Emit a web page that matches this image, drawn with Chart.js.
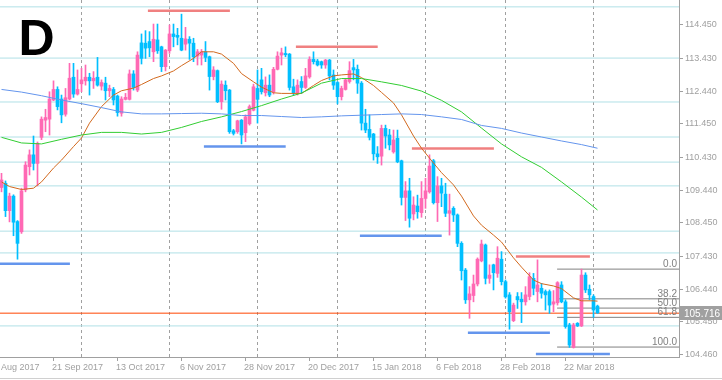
<!DOCTYPE html>
<html>
<head>
<meta charset="utf-8">
<script src="https://cdn.jsdelivr.net/npm/chart.js@4.4.1/dist/chart.umd.min.js"></script>
<style>
    html, body { margin: 0; padding: 0; background: #ffffff; }
    #wrap { width: 722px; height: 380px; }
</style>
</head>
<body>
<div id="wrap"><canvas id="chart" width="722" height="380"></canvas></div>
<script>
// Daily candles, Sep 2017 - Apr 2018 (index 0 = first visible bar)
const opens = [
    109.52, 109.65, 108.82, 109.26, 108.49, 108.18, 109.45, 110.15, 110.51, 110.25,
    111.04, 111.56, 111.59, 112.17, 112.49, 112.20, 111.74, 112.20, 112.86, 112.35,
    112.66, 112.75, 112.86, 112.75, 112.86, 112.59, 112.68, 112.45, 112.49, 112.29,
    111.77, 112.19, 112.19, 112.96, 112.47, 113.90, 113.89, 113.94, 113.63, 113.99,
    113.78, 113.18, 113.66, 114.17, 114.13, 114.04, 113.86, 114.01, 113.89, 113.50,
    113.53, 113.63, 113.48, 112.88, 113.06, 112.12, 112.62, 112.47, 111.24, 111.21,
    111.56, 111.18, 111.45, 111.86, 112.52, 112.78, 112.39, 112.62, 112.42, 113.10,
    113.53, 113.58, 113.56, 112.57, 112.39, 112.73, 112.55, 112.87, 113.40, 113.35,
    113.33, 113.23, 113.38, 112.93, 112.70, 112.27, 112.49, 112.73, 113.15, 113.10,
    112.68, 111.47, 111.28, 111.14, 110.54, 110.47, 111.31, 111.11, 110.60, 111.01,
    110.33, 109.22, 109.42, 108.72, 108.96, 108.76, 109.19, 109.39, 110.33, 109.06,
    109.57, 109.32, 108.74, 108.89, 108.69, 107.83, 107.02, 106.12, 106.25, 106.60,
    107.30, 107.78, 106.77, 107.18, 106.92, 107.35, 106.67, 106.27, 105.49, 106.22,
    106.14, 106.06, 106.22, 106.77, 106.37, 106.47, 106.37, 106.37, 105.99, 106.03,
    106.57, 106.06, 105.36, 104.68, 105.41, 105.33, 106.87, 106.44, 106.22, 105.93
];
const highs = [
    109.95, 109.72, 109.35, 109.30, 108.52, 109.50, 110.30, 110.66, 111.08, 110.90,
    111.66, 111.89, 112.42, 112.75, 112.57, 112.32, 112.52, 113.28, 113.28, 113.08,
    113.13, 113.23, 112.98, 113.03, 113.46, 112.78, 112.86, 112.62, 112.55, 112.32,
    112.27, 112.37, 113.08, 113.06, 113.63, 114.17, 114.27, 114.24, 114.47, 114.47,
    113.80, 113.70, 114.44, 114.47, 114.34, 114.77, 114.37, 114.09, 114.04, 113.70,
    113.70, 113.94, 113.50, 113.18, 113.08, 112.75, 112.75, 112.49, 111.28, 111.56,
    111.58, 111.72, 112.02, 112.65, 113.08, 113.13, 112.87, 112.93, 113.16, 113.63,
    113.74, 113.78, 113.58, 112.80, 112.78, 112.88, 113.13, 113.48, 113.63, 113.40,
    113.35, 113.40, 113.40, 113.08, 112.73, 112.59, 112.81, 113.33, 113.40, 113.23,
    112.73, 111.89, 111.72, 111.16, 110.76, 111.41, 111.41, 111.28, 111.26, 111.26,
    110.35, 109.70, 109.80, 109.24, 109.29, 109.70, 109.80, 110.51, 110.37, 109.85,
    109.80, 109.65, 109.32, 108.94, 108.72, 107.88, 107.07, 106.52, 106.87, 107.39,
    107.93, 107.81, 107.18, 107.20, 107.73, 107.58, 106.72, 106.34, 106.02, 106.34,
    106.34, 106.52, 106.94, 106.92, 107.33, 106.62, 106.42, 106.42, 106.40, 106.67,
    106.67, 106.12, 105.41, 105.41, 105.43, 107.05, 106.94, 106.57, 106.27, 105.96
];
const lows = [
    109.39, 108.64, 108.48, 108.06, 107.35, 108.13, 109.39, 109.90, 110.05, 109.57,
    110.97, 111.21, 111.11, 112.15, 111.87, 111.48, 111.68, 112.17, 112.25, 112.32,
    112.42, 112.62, 112.32, 112.52, 112.59, 112.47, 112.17, 112.27, 112.02, 111.68,
    111.68, 112.17, 112.17, 112.47, 112.42, 113.26, 113.43, 113.48, 113.33, 113.58,
    113.03, 113.05, 113.58, 113.78, 113.84, 113.66, 113.68, 113.40, 113.33, 113.23,
    113.23, 113.33, 112.47, 112.78, 112.09, 111.89, 112.17, 111.16, 111.11, 111.16,
    110.84, 110.91, 111.41, 111.84, 111.47, 112.35, 112.29, 112.27, 112.35, 113.08,
    113.23, 113.48, 112.47, 112.32, 112.32, 112.37, 112.52, 112.83, 113.26, 113.20,
    113.13, 113.13, 112.78, 112.49, 112.05, 112.17, 112.47, 112.68, 112.78, 112.37,
    111.26, 111.18, 110.96, 110.35, 110.25, 110.20, 110.71, 110.66, 110.56, 110.27,
    108.99, 108.52, 108.32, 108.54, 108.59, 108.62, 108.89, 109.35, 109.02, 108.49,
    108.94, 108.64, 108.08, 108.49, 107.73, 106.72, 106.01, 105.56, 106.06, 106.54,
    107.27, 106.60, 106.62, 106.42, 106.80, 106.57, 106.17, 105.23, 105.46, 105.86,
    105.43, 105.96, 106.12, 106.27, 106.06, 106.17, 105.81, 105.71, 105.76, 105.96,
    106.03, 105.26, 104.68, 104.66, 105.31, 105.31, 106.34, 106.12, 105.59, 105.71
];
const closes = [
    109.75, 108.82, 109.26, 108.47, 107.83, 109.42, 110.20, 110.51, 110.25, 110.86,
    111.59, 111.64, 112.20, 112.49, 111.97, 111.72, 112.24, 112.83, 112.35, 112.49,
    112.78, 112.86, 112.75, 112.83, 112.62, 112.70, 112.45, 112.52, 112.17, 111.79,
    112.20, 112.25, 112.96, 112.55, 113.53, 113.43, 113.74, 113.75, 114.01, 113.66,
    113.18, 113.68, 114.17, 114.09, 114.07, 113.68, 114.02, 113.89, 113.48, 113.63,
    113.63, 113.46, 112.88, 113.08, 112.12, 112.65, 112.45, 111.21, 111.16, 111.54,
    111.11, 111.66, 111.97, 112.57, 112.19, 112.42, 112.62, 112.32, 113.10, 113.50,
    113.60, 113.54, 112.55, 112.39, 112.62, 112.55, 112.90, 113.40, 113.33, 113.23,
    113.23, 113.38, 112.90, 112.62, 112.27, 112.52, 112.78, 113.06, 113.08, 112.68,
    111.47, 111.26, 111.04, 110.54, 110.45, 111.31, 111.08, 110.81, 110.96, 110.30,
    109.22, 109.42, 108.59, 108.99, 108.79, 109.19, 109.42, 110.17, 109.06, 109.57,
    109.35, 108.74, 108.82, 108.69, 107.83, 107.00, 106.12, 106.30, 106.60, 107.35,
    107.81, 106.77, 106.87, 106.94, 107.38, 106.67, 106.21, 105.76, 105.96, 106.12,
    106.06, 106.27, 106.82, 106.47, 106.57, 106.32, 106.27, 105.96, 106.06, 106.64,
    106.06, 105.31, 104.75, 105.36, 105.33, 106.87, 106.42, 106.27, 105.81, 105.72
];

// Moving averages (bar index -> price)
const slowIdx = [0, 5, 10, 15, 20, 25, 30, 35, 40, 45, 50, 55, 60, 65, 70, 75, 80, 85, 90, 95,
    100, 105, 110, 115, 120, 125, 130, 135, 140, 145, 149];
const maBlue = [112.49, 112.41, 112.30, 112.17, 112.06, 111.94, 111.81, 111.75, 111.75, 111.76,
    111.77, 111.75, 111.70, 111.70, 111.67, 111.64, 111.66, 111.69, 111.71, 111.73,
    111.75, 111.73, 111.66, 111.58, 111.40, 111.31, 111.17, 111.05, 110.93, 110.82, 110.71];
const maGreen = [111.04, 110.87, 110.84, 110.98, 111.11, 111.19, 111.19, 111.14, 111.19, 111.34,
    111.52, 111.66, 111.82, 112.00, 112.20, 112.38, 112.68, 112.82, 112.82, 112.72,
    112.61, 112.44, 112.16, 111.81, 111.32, 110.84, 110.45, 110.13, 109.69, 109.23, 108.84];
const fastIdx = [0, 2, 5, 8, 10, 13, 15, 18, 20, 22, 25, 28, 30, 33, 35, 38, 40, 43, 45, 48,
    50, 53, 55, 58, 60, 63, 65, 68, 70, 75, 78, 80, 83, 85, 88, 90, 93, 95, 98, 100,
    103, 105, 108, 110, 113, 115, 118, 120, 123, 125, 128, 130, 133, 135, 138, 140, 143, 145, 148, 149];
const maOrange = [109.69, 109.55, 109.46, 109.50, 109.69, 110.11, 110.35, 110.76, 111.02, 111.47,
    111.97, 112.32, 112.45, 112.53, 112.64, 112.82, 112.90, 113.05, 113.21, 113.43,
    113.63, 113.63, 113.56, 113.28, 112.97, 112.72, 112.56, 112.39, 112.37, 112.37,
    112.61, 112.76, 112.90, 112.93, 112.96, 112.85, 112.61, 112.40, 112.08, 111.72,
    111.08, 110.71, 110.26, 109.97, 109.60, 109.26, 108.66, 108.38, 108.08, 107.87,
    107.39, 107.11, 106.72, 106.61, 106.54, 106.46, 106.18, 106.09, 106.09, 106.08];

// Drawn levels
const cyanLevels = [114.99, 113.44, 112.11, 111.05, 110.29, 109.57, 108.20, 107.54, 105.33];
const redLevels = [114.87, 113.78, 110.70, 107.43];
const redFrom = [36.6, 73.6, 102.6, 128.6];
const redTo = [57.1, 94.05, 123.1, 147.1];
const blueLevels = [110.76, 107.21, 108.06, 105.12, 104.48];
const blueFrom = [50.6, -0.4, 89.6, 116.6, 133.6];
const blueTo = [71.05, 17.1, 110.05, 137.1, 152.1];
const fibLevels = [107.05, 106.15, 105.87, 105.59, 104.69];
const fibLabels = ["0.0", "38.2", "50.0", "61.8", "100.0"];
const fibStart = 138.9;
const bidPrice = 105.716;

// Axes
const yTicks = [114.45, 113.43, 112.44, 111.45, 110.43, 109.44, 108.45, 107.43, 106.44, 105.45, 104.46];
const xTickIdx = [13, 29, 45, 61, 77, 93, 109, 125, 141];
const xTickLabels = ["21 Sep 2017", "13 Oct 2017", "6 Nov 2017", "28 Nov 2017", "20 Dec 2017",
    "15 Jan 2018", "6 Feb 2018", "28 Feb 2018", "22 Mar 2018"];
const monthIdx = [20, 42, 64, 84, 106, 126, 148];

const X_MIN = -0.375;
const X_MAX = 169.375;
const Y_MIN = 104.389;
const Y_MAX = 115.198;

const BULL = "#ff69b4";
const BEAR = "#00bfff";
const AXIS = "#a0a0a0";
const FONT = "Liberation Sans";

/**
 * Flat line dataset between two bar positions
 */
function levelLine(value, from, to, color, width, order) {
    return {
        type: "line",
        data: [{ x: from, y: value }, { x: to, y: value }],
        borderColor: color,
        borderWidth: width,
        pointRadius: 0,
        fill: false,
        order: order,
    };
}

/**
 * Moving average dataset
 */
function maLine(idx, values, color) {
    return {
        type: "line",
        data: idx.map((i, k) => ({ x: i, y: values[k] })),
        borderColor: color,
        borderWidth: 1,
        pointRadius: 0,
        fill: false,
        tension: 0,
        order: 1,
    };
}

function buildDatasets() {
    const colors = opens.map((o, i) => (closes[i] >= o ? BULL : BEAR));
    const sets = [];

    cyanLevels.forEach((v) => sets.push(levelLine(v, X_MIN, X_MAX, "#b0e0e6", 1, 20)));
    sets.push(levelLine(bidPrice, X_MIN, X_MAX, "#ff4500", 1, 19));
    fibLevels.forEach((v) => sets.push(levelLine(v, fibStart, X_MAX, "#808080", 1, 18)));

    // wicks then bodies
    sets.push({
        type: "bar",
        data: opens.map((o, i) => ({ x: i, y: [lows[i], highs[i]] })),
        backgroundColor: colors,
        barThickness: 1,
        grouped: false,
        minBarLength: 1,
        order: 10,
    });
    sets.push({
        type: "bar",
        data: opens.map((o, i) => ({ x: i, y: [o, closes[i]] })),
        backgroundColor: colors,
        barThickness: 3,
        grouped: false,
        minBarLength: 1,
        order: 9,
    });

    redLevels.forEach((v, k) => sets.push(levelLine(v, redFrom[k], redTo[k], "#f08080", 2.5, 3)));
    blueLevels.forEach((v, k) => sets.push(levelLine(v, blueFrom[k], blueTo[k], "#6495ed", 2.5, 3)));

    sets.push(maLine(slowIdx, maBlue, "#6495ed"));
    sets.push(maLine(slowIdx, maGreen, "#32cd32"));
    sets.push(maLine(fastIdx, maOrange, "#d2691e"));
    return sets;
}

// Dashed month separators, x axis, labels and boxes
const overlay = {
    id: "overlay",
    beforeDatasetsDraw(chart) {
        const { ctx, chartArea: a, scales } = chart;
        ctx.save();
        ctx.strokeStyle = AXIS;
        ctx.lineWidth = 1;
        ctx.setLineDash([3, 3]);
        monthIdx.forEach((i) => {
            const px = Math.floor(scales.x.getPixelForValue(i)) + 0.5;
            ctx.beginPath();
            ctx.moveTo(px, a.top);
            ctx.lineTo(px, a.bottom);
            ctx.stroke();
        });
        ctx.restore();
    },
    afterDraw(chart) {
        const { ctx, chartArea: a, scales } = chart;
        const x = scales.x;
        const y = scales.y;
        ctx.save();

        // bottom axis
        ctx.strokeStyle = AXIS;
        ctx.lineWidth = 1;
        ctx.beginPath();
        ctx.moveTo(0, a.bottom + 0.5);
        ctx.lineTo(a.right + 1, a.bottom + 0.5);
        ctx.stroke();
        ctx.strokeStyle = "#d0d0d0";
        ctx.beginPath();
        ctx.moveTo(0, 378.5);
        ctx.lineTo(722, 378.5);
        ctx.stroke();

        ctx.fillStyle = AXIS;
        ctx.strokeStyle = AXIS;
        ctx.font = "9px '" + FONT + "'";
        ctx.textBaseline = "alphabetic";
        ctx.textAlign = "left";
        ctx.fillText("Aug 2017", 1, a.bottom + 13);
        xTickIdx.forEach((i, k) => {
            const px = Math.floor(x.getPixelForValue(i)) + 0.5;
            ctx.beginPath();
            ctx.moveTo(px, a.bottom);
            ctx.lineTo(px, a.bottom + 4);
            ctx.stroke();
            ctx.fillText(xTickLabels[k], px - 1.5, a.bottom + 13);
        });

        // fibo level captions
        ctx.fillStyle = "#808080";
        ctx.font = "10px '" + FONT + "'";
        ctx.textAlign = "right";
        fibLevels.forEach((v, k) => {
            ctx.fillText(fibLabels[k], a.right - 2, y.getPixelForValue(v) - 2);
        });

        // current price box
        const py = Math.round(y.getPixelForValue(bidPrice));
        ctx.fillStyle = "#a0a0a0";
        ctx.fillRect(a.right + 1, py - 7, 722 - a.right - 1, 14);
        ctx.fillStyle = "#ffffff";
        ctx.font = "10px '" + FONT + "'";
        ctx.textAlign = "left";
        ctx.textBaseline = "middle";
        ctx.fillText(bidPrice.toFixed(3), a.right + 5, py + 1);

        // big letter
        ctx.fillStyle = "#000000";
        ctx.font = "bold 50px '" + FONT + "'";
        ctx.textBaseline = "alphabetic";
        ctx.fillText("D", 18.5, 55);
        ctx.restore();
    },
};

function initChart() {
    const ctx = document.getElementById("chart");
    Chart.defaults.font.family = FONT;

    new Chart(ctx, {
        type: "bar",
        data: { datasets: buildDatasets() },
        options: {
            responsive: false,
            animation: false,
            devicePixelRatio: 1,
            layout: { padding: { left: 0, right: 0, top: 0, bottom: 23 } },
            plugins: {
                legend: { display: false },
                tooltip: { enabled: false },
            },
            scales: {
                x: {
                    type: "linear",
                    min: X_MIN,
                    max: X_MAX,
                    offset: false,
                    display: false,
                },
                y: {
                    position: "right",
                    min: Y_MIN,
                    max: Y_MAX,
                    afterBuildTicks: (scale) => {
                        scale.ticks = yTicks.map((v) => ({ value: v }));
                    },
                    afterFit: (scale) => {
                        scale.width = 43;
                        scale.paddingTop = 0;
                        scale.paddingBottom = 0;
                    },
                    grid: {
                        drawOnChartArea: false,
                        drawTicks: true,
                        tickLength: 4,
                        color: AXIS,
                    },
                    border: { display: true, color: AXIS },
                    ticks: {
                        autoSkip: false,
                        padding: 2,
                        color: AXIS,
                        font: { family: FONT, size: 9 },
                        callback: (v) => Number(v).toFixed(3),
                    },
                },
            },
        },
        plugins: [overlay],
    });
}

document.addEventListener("DOMContentLoaded", initChart);
</script>
</body>
</html>
